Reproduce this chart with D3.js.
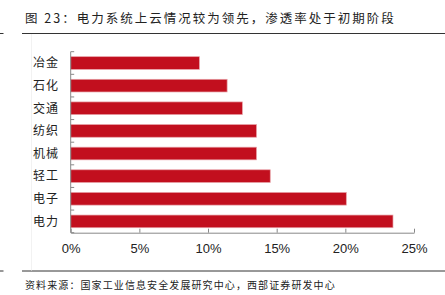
<!DOCTYPE html>
<html>
<head>
<meta charset="utf-8">
<script src="https://cdn.jsdelivr.net/npm/d3@7"></script>
<style>
  body { margin: 0; background: #fff; }
  svg { display: block; }
</style>
</head>
<body>
<script>
"use strict";

// Data
const sectors = ["冶金", "石化", "交通", "纺织", "机械", "轻工", "电子", "电力"]
const cloudRate = [0.0937, 0.1139, 0.125, 0.1353, 0.1353, 0.1453, 0.2007, 0.2347]
const xTicks = [0, 0.05, 0.10, 0.15, 0.20, 0.25]
const titleText = "图 23：电力系统上云情况较为领先，渗透率处于初期阶段"
const sourceText = "资料来源：国家工业信息安全发展研究中心，西部证券研发中心"

const size = { width: 445, height: 295 }
const plot = { left: 70.7, right: 414, top: 51.7, bottom: 232.7 }
const cjk = "'Noto Sans CJK SC', sans-serif"

const svg = d3.select("body").append("svg")
    .attr("width", size.width)
    .attr("height", size.height)

// Title and rules
svg.append("text")
    .attr("x", 25)
    .attr("y", 22.5)
    .style("font-family", cjk)
    .style("font-size", "12.5px")
    .style("letter-spacing", "2px")
    .style("fill", "#222")
    .text(titleText)

svg.append("line")
    .attr("x1", 22).attr("x2", 445)
    .attr("y1", 33.5).attr("y2", 33.5)
    .style("stroke", "#333").style("stroke-width", 1)
svg.append("line")
    .attr("x1", 0).attr("x2", 3.5)
    .attr("y1", 33.5).attr("y2", 33.5)
    .style("stroke", "#333").style("stroke-width", 1)

svg.append("line")
    .attr("x1", 22).attr("x2", 445)
    .attr("y1", 271).attr("y2", 271)
    .style("stroke", "#333").style("stroke-width", 1)
svg.append("line")
    .attr("x1", 0).attr("x2", 3.5)
    .attr("y1", 271).attr("y2", 271)
    .style("stroke", "#333").style("stroke-width", 1)

svg.append("line")
    .attr("x1", 31.5).attr("x2", 31.5)
    .attr("y1", 34).attr("y2", 270.5)
    .style("stroke", "#f2f2f2").style("stroke-width", 1)

svg.append("text")
    .attr("x", 25)
    .attr("y", 289)
    .style("font-family", cjk)
    .style("font-size", "10px")
    .style("letter-spacing", "1.1px")
    .style("fill", "#222")
    .text(sourceText)

// Scales
const scaleX = d3.scaleLinear()
    .domain([0, 0.25])
    .range([plot.left, plot.right])

const scaleY = d3.scaleBand()
    .domain(sectors)
    .range([plot.top, plot.bottom])
    .paddingInner(0.44)
    .paddingOuter(0.22)

// Bars
svg.selectAll(".bar")
    .data(sectors)
    .enter()
    .append("rect")
    .attr("class", "bar")
    .attr("x", scaleX(0))
    .attr("y", d => scaleY(d))
    .attr("width", (d, i) => scaleX(cloudRate[i]) - scaleX(0))
    .attr("height", scaleY.bandwidth())
    .style("fill", "#c20f1e")
    .style("stroke", "#e7a0a6")
    .style("stroke-width", 0.7)

// Y axis: line with inner ticks at band edges
const yAxis = svg.append("g")
yAxis.append("line")
    .attr("x1", plot.left).attr("x2", plot.left)
    .attr("y1", plot.top).attr("y2", plot.bottom)
    .style("stroke", "#888")
const step = scaleY.step()
yAxis.selectAll(".ytick")
    .data(d3.range(sectors.length + 1))
    .enter()
    .append("line")
    .attr("x1", plot.left).attr("x2", plot.left + 3.5)
    .attr("y1", i => plot.top + i * step)
    .attr("y2", i => plot.top + i * step)
    .style("stroke", "#888")

yAxis.selectAll(".ylabel")
    .data(sectors)
    .enter()
    .append("text")
    .attr("x", 59)
    .attr("y", d => scaleY(d) + scaleY.bandwidth() / 2)
    .attr("dy", "0.36em")
    .attr("text-anchor", "end")
    .style("font-family", cjk)
    .style("font-size", "12px")
    .style("letter-spacing", "1px")
    .style("fill", "#222")
    .text(d => d)

// X axis
const xAxis = d3.axisBottom(scaleX)
    .tickValues(xTicks)
    .tickSize(-4)
    .tickSizeOuter(0)
    .tickPadding(11.5)
    .tickFormat(d3.format(".0%"))

const gx = svg.append("g")
    .attr("transform", "translate(0," + plot.bottom + ")")
    .call(xAxis)
gx.select(".domain").style("stroke", "#888")
gx.selectAll(".tick line").style("stroke", "#888")
gx.selectAll(".tick text")
    .style("font-family", "'Liberation Sans', Arial, sans-serif")
    .style("font-size", "13px")
    .style("fill", "#222")
</script>
</body>
</html>
